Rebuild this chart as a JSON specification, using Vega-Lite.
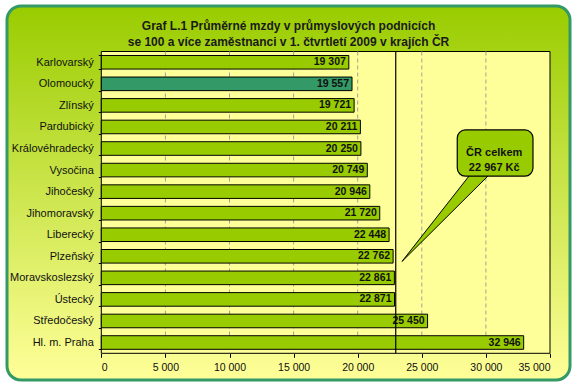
{
  "$schema": "https://vega.github.io/schema/vega-lite/v6.json",
  "width": 563,
  "height": 374,
  "autosize": {"type": "none"},
  "padding": {"left": 7, "top": 6, "right": 8, "bottom": 8},
  "background": "white",
  "config": {
    "locale": {"number": {"decimal": ",", "thousands": "\u00a0", "grouping": [3], "currency": ["", " Kč"]}},
    "view": {
      "stroke": "#339966",
      "strokeWidth": 3,
      "cornerRadius": 14,
      "fill": {"gradient": "linear", "x1": 0, "y1": 0, "x2": 0, "y2": 1,
        "stops": [{"offset": 0, "color": "#99CC00"}, {"offset": 1, "color": "#FFFF99"}]}
    },
    "font": "Liberation Sans"
  },
  "title": {
    "text": ["Graf L.1 Průměrné mzdy v průmyslových podnicích", "se 100 a více zaměstnanci v 1. čtvrtletí 2009 v krajích ČR"],
    "anchor": "middle",
    "frame": "group",
    "font": "Liberation Sans",
    "fontSize": 12,
    "fontWeight": "bold",
    "color": "#1a1a1a",
    "baseline": "top",
    "offset": -49,
    "lineHeight": 16
  },
  "datasets": {
    "kraje": [
      {"kraj": "Karlovarský", "mzda": 19307},
      {"kraj": "Olomoucký", "mzda": 19557},
      {"kraj": "Zlínský", "mzda": 19721},
      {"kraj": "Pardubický", "mzda": 20211},
      {"kraj": "Královéhradecký", "mzda": 20250},
      {"kraj": "Vysočina", "mzda": 20749},
      {"kraj": "Jihočeský", "mzda": 20946},
      {"kraj": "Jihomoravský", "mzda": 21720},
      {"kraj": "Liberecký", "mzda": 22448},
      {"kraj": "Plzeňský", "mzda": 22762},
      {"kraj": "Moravskoslezský", "mzda": 22861},
      {"kraj": "Ústecký", "mzda": 22871},
      {"kraj": "Středočeský", "mzda": 25450},
      {"kraj": "Hl. m. Praha", "mzda": 32946}
    ],
    "grid": [{"v": 5000}, {"v": 10000}, {"v": 15000}, {"v": 20000}, {"v": 25000}, {"v": 30000}],
    "wedge": [
      {"y": 5.6, "left": 28916, "right": 30458},
      {"y": 9.74, "left": 23455, "right": 23455}
    ]
  },
  "resolve": {"scale": {"y": "independent"}},
  "layer": [
    {
      "data": {"values": [{}]},
      "mark": {"type": "rect", "fill": "#FFFF99", "stroke": "black", "strokeWidth": 1},
      "encoding": {
        "x": {"datum": 0, "type": "quantitative", "scale": {"domain": [0, 35000], "range": [94.3, 543], "nice": false, "zero": false},
          "axis": {"values": [0, 5000, 10000, 15000, 20000, 25000, 30000, 35000], "format": ",d", "offset": -26.7, "domain": false, "grid": false, "tickColor": "black", "tickSize": 4, "labelFontSize": 10.5, "labelColor": "#111", "labelPadding": 5, "title": null, "labelFont": "Liberation Sans"}},
        "x2": {"datum": 35000},
        "y": {"datum": 0, "type": "quantitative", "scale": {"domain": [0, 14], "range": [45.5, 347.3], "nice": false, "zero": false}, "axis": null},
        "y2": {"datum": 14}
      }
    },
    {
      "data": {"name": "grid"},
      "mark": {"type": "rule", "color": "#A0A0A0", "strokeWidth": 1, "strokeDash": [4, 3]},
      "encoding": {
        "x": {"field": "v", "type": "quantitative", "scale": {"domain": [0, 35000], "range": [94.3, 543], "nice": false, "zero": false}},
        "y": {"datum": 0, "type": "quantitative", "scale": {"domain": [0, 14], "range": [45.5, 347.3], "nice": false, "zero": false}, "axis": null},
        "y2": {"datum": 14}
      }
    },
    {
      "data": {"name": "kraje"},
      "mark": {"type": "bar", "stroke": "black", "strokeWidth": 1},
      "encoding": {
        "x": {"field": "mzda", "type": "quantitative",
          "scale": {"domain": [0, 35000], "range": [94.3, 543], "nice": false, "zero": false}},
        "y": {"field": "kraj", "type": "nominal", "sort": {"field": "mzda", "order": "ascending"},
          "scale": {"range": [45.5, 347.3], "paddingInner": 0.37, "paddingOuter": 0.185},
          "axis": {"offset": -94.3, "domain": false, "tickBand": "extent", "tickSize": 3, "tickColor": "black", "labelFontSize": 11, "labelColor": "#111", "labelPadding": 5, "title": null, "labelLimit": 200, "labelFont": "Liberation Sans"}},
        "color": {"condition": {"test": "datum.kraj === 'Olomoucký'", "value": "#339966"}, "value": "#99CC00"}
      }
    },
    {
      "data": {"name": "kraje"},
      "mark": {"type": "text", "align": "right", "baseline": "middle", "dx": -3, "font": "Liberation Sans", "fontSize": 10.5, "fontWeight": "bold", "color": "#111"},
      "encoding": {
        "x": {"field": "mzda", "type": "quantitative", "scale": {"domain": [0, 35000], "range": [94.3, 543], "nice": false, "zero": false}},
        "y": {"field": "kraj", "type": "nominal", "sort": {"field": "mzda", "order": "ascending"},
          "scale": {"range": [45.5, 347.3], "paddingInner": 0.37, "paddingOuter": 0.185}, "axis": null},
        "text": {"field": "mzda", "type": "quantitative", "format": ",d"}
      }
    },
    {
      "data": {"values": [{}]},
      "mark": {"type": "rule", "color": "black", "strokeWidth": 1.2},
      "encoding": {
        "x": {"datum": 22967, "type": "quantitative", "scale": {"domain": [0, 35000], "range": [94.3, 543], "nice": false, "zero": false}},
        "y": {"datum": 0, "type": "quantitative", "scale": {"domain": [0, 14], "range": [45.5, 347.3], "nice": false, "zero": false}, "axis": null},
        "y2": {"datum": 14}
      }
    },
    {
      "data": {"name": "wedge"},
      "mark": {"type": "area", "orient": "horizontal", "fill": "#99CC00", "stroke": "black", "strokeWidth": 1},
      "encoding": {
        "y": {"field": "y", "type": "quantitative", "scale": {"domain": [0, 14], "range": [45.5, 347.3], "nice": false, "zero": false}, "axis": null},
        "x": {"field": "left", "type": "quantitative", "scale": {"domain": [0, 35000], "range": [94.3, 543], "nice": false, "zero": false}},
        "x2": {"field": "right"}
      }
    },
    {
      "data": {"values": [{}]},
      "mark": {"type": "rect", "fill": "#99CC00", "stroke": "black", "strokeWidth": 1.2, "cornerRadius": 8},
      "encoding": {
        "x": {"datum": 27766, "type": "quantitative", "scale": {"domain": [0, 35000], "range": [94.3, 543], "nice": false, "zero": false}},
        "x2": {"datum": 33672},
        "y": {"datum": 3.64, "type": "quantitative", "scale": {"domain": [0, 14], "range": [45.5, 347.3], "nice": false, "zero": false}, "axis": null},
        "y2": {"datum": 5.78}
      }
    },
    {
      "data": {"values": [{}]},
      "mark": {"type": "text", "align": "center", "baseline": "middle", "font": "Liberation Sans", "fontSize": 11, "fontWeight": "bold", "color": "#111", "lineHeight": 15},
      "encoding": {
        "x": {"datum": 30650, "type": "quantitative", "scale": {"domain": [0, 35000], "range": [94.3, 543], "nice": false, "zero": false}},
        "y": {"datum": 4.69, "type": "quantitative", "scale": {"domain": [0, 14], "range": [45.5, 347.3], "nice": false, "zero": false}, "axis": null},
        "text": {"value": ["ČR celkem", "22 967 Kč"]}
      }
    }
  ]
}
